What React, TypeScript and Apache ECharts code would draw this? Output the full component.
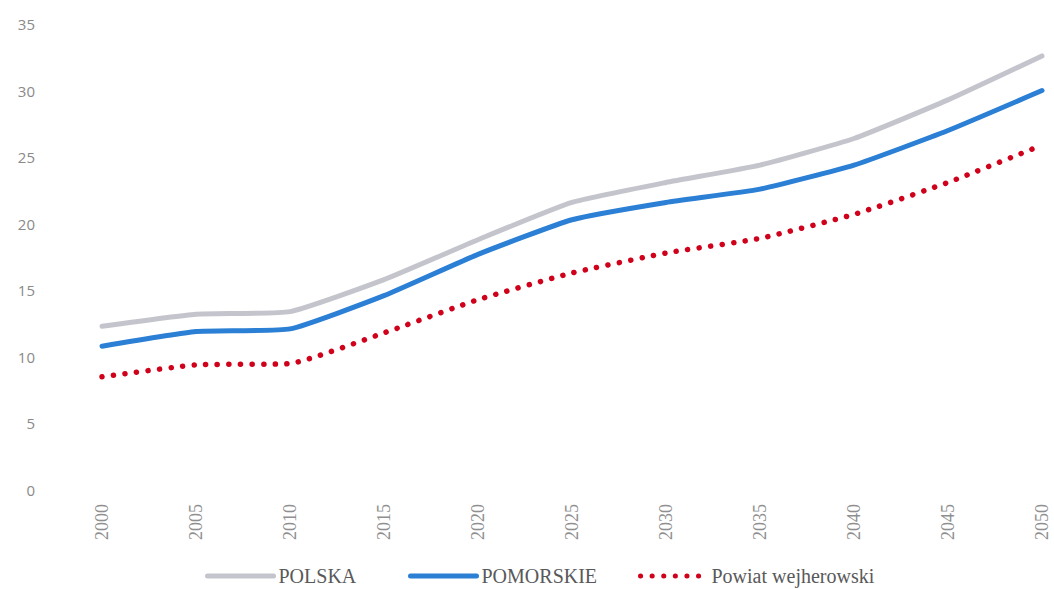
import React, { useEffect, useRef } from "react";
import * as echarts from "echarts";

const years = ["2000", "2005", "2010", "2015", "2020", "2025", "2030", "2035", "2040", "2045", "2050"];
const polska = [12.3, 13.2, 13.4, 15.8, 18.8, 21.6, 23.1, 24.4, 26.4, 29.3, 32.6];
const pomorskie = [10.8, 11.9, 12.1, 14.6, 17.7, 20.3, 21.6, 22.6, 24.4, 27.0, 30.0];
const powiat = [8.5, 9.4, 9.5, 11.8, 14.3, 16.3, 17.8, 18.9, 20.7, 23.1, 25.9];
const seriesNames = ["POLSKA", "POMORSKIE", "Powiat wejherowski"];

export default function App() {
  const ref = useRef<HTMLDivElement>(null);
  useEffect(() => {
    if (!ref.current) return;
    const chart = echarts.init(ref.current, null, { renderer: "svg" });
    const legendText = { color: "#595959", fontFamily: "Liberation Serif", fontSize: 20 };
    const legendLefts = [205, 408, 638];
    chart.setOption({
      animation: false,
      backgroundColor: "#ffffff",
      grid: { left: 102, right: 12, top: 24, bottom: 99, containLabel: false },
      xAxis: {
        type: "category",
        data: years,
        boundaryGap: false,
        axisLine: { show: false },
        axisTick: { show: false },
        axisLabel: {
          rotate: 90,
          margin: 14,
          color: "#8f8f8f",
          fontFamily: "Liberation Serif",
          fontSize: 18,
        },
      },
      yAxis: {
        type: "value",
        min: 0,
        max: 35,
        interval: 5,
        splitLine: { show: false },
        axisLine: { show: false },
        axisTick: { show: false },
        axisLabel: {
          margin: 67,
          color: "#8a8a8a",
          fontFamily: "Open Sans",
          fontSize: 15,
        },
      },
      legend: seriesNames.map((n, i) => ({
        top: 566,
        left: legendLefts[i],
        padding: 0,
        itemWidth: 66,
        itemHeight: 14,
        itemStyle: { opacity: 0 },
        lineStyle: { width: 5 },
        textStyle: legendText,
        data: [n],
      })),
      series: [
        {
          name: seriesNames[0],
          type: "line",
          data: polska,
          symbol: "none",
          smooth: 0.15,
          color: "#c4c4cc",
          lineStyle: { width: 5, color: "#c4c4cc", cap: "round" },
        },
        {
          name: seriesNames[1],
          type: "line",
          data: pomorskie,
          symbol: "none",
          smooth: 0.15,
          color: "#2b7fd4",
          lineStyle: { width: 5, color: "#2b7fd4", cap: "round" },
        },
        {
          name: seriesNames[2],
          type: "line",
          data: powiat,
          symbol: "none",
          smooth: 0.15,
          color: "#d0021b",
          lineStyle: { width: 5.5, color: "#d0021b", type: [0.1, 11.5], cap: "round" },
        },
      ],
    });
    return () => chart.dispose();
  }, []);
  return <div ref={ref} style={{ position: "fixed", left: 0, top: 0, width: 1054, height: 589 }} />;
}
